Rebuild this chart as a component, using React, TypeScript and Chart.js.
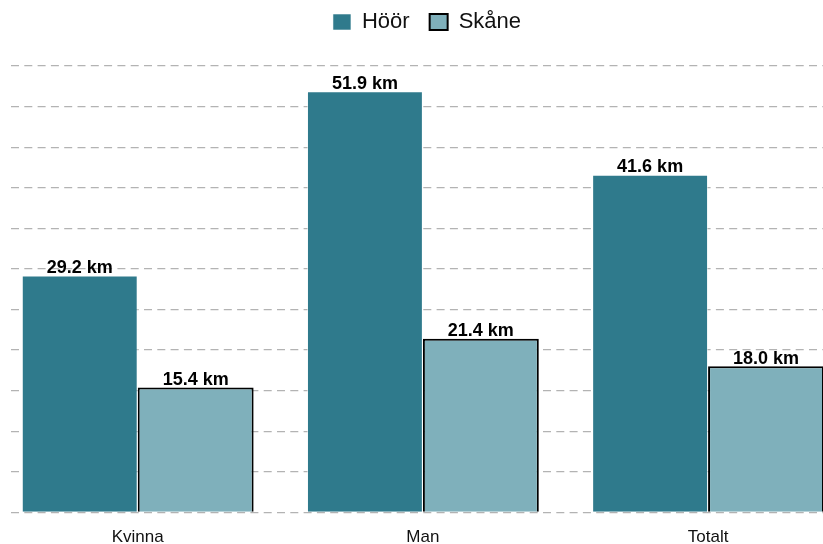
import React, { useEffect, useRef } from "react";
import { Chart, registerables } from "chart.js";

Chart.register(...registerables);

const categories = ["Kvinna", "Man", "Totalt"];
const seriesNames = ["Höör", "Skåne"];
const hoorValues = [29.2, 51.9, 41.6];
const skaneValues = [15.4, 21.4, 18.0];
const unit = "km";
const yMax = 55;
const yStep = 5;

const HOOR_COLOR = "rgb(47,122,140)";
const SKANE_COLOR = "rgb(127,176,187)";
const FONT = '"Liberation Sans", Arial, Helvetica, sans-serif';

const legendSpacer = {
  id: "legendSpacer",
  beforeLayout(chart: any) {
    const lg = chart.legend;
    if (lg && !lg.__patched) {
      const orig = lg.fit;
      lg.fit = function () {
        orig.call(this);
        this.height = 75;
      };
      lg.__patched = true;
    }
  },
};

const valueLabels = {
  id: "valueLabels",
  afterDatasetsDraw(chart: any) {
    const ctx = chart.ctx;
    ctx.save();
    ctx.font = "bold 18px " + FONT;
    ctx.fillStyle = "#000";
    ctx.textAlign = "center";
    ctx.textBaseline = "bottom";
    chart.data.datasets.forEach((ds: any, di: number) => {
      const meta = chart.getDatasetMeta(di);
      meta.data.forEach((bar: any, i: number) => {
        const v = ds.data[i].y;
        ctx.fillText(v.toFixed(1) + " " + unit, bar.x, bar.y + 1.5);
      });
    });
    ctx.restore();
  },
};

export default function App() {
  const ref = useRef<HTMLCanvasElement | null>(null);

  useEffect(() => {
    if (!ref.current) return;
    Chart.defaults.font.family = FONT;
    const chart = new Chart(ref.current, {
      type: "bar",
      data: {
        datasets: [
          {
            label: seriesNames[0],
            data: hoorValues.map((v, i) => ({ x: i, y: v })),
            backgroundColor: HOOR_COLOR,
            borderColor: "rgba(255,255,255,0.55)",
            borderWidth: 1,
          },
          {
            label: seriesNames[1],
            data: skaneValues.map((v, i) => ({ x: i, y: v })),
            backgroundColor: SKANE_COLOR,
            borderColor: "#000",
            borderWidth: 2,
          },
        ],
      },
      options: {
        animation: false,
        responsive: true,
        maintainAspectRatio: false,
        categoryPercentage: 0.813,
        barPercentage: 1,
        layout: { padding: { top: -9, left: 11, right: -20, bottom: 0 } },
        plugins: {
          legend: {
            position: "top",
            labels: {
              font: { size: 22, family: FONT },
              color: "#111",
              boxWidth: 18,
              boxHeight: 16,
              padding: 20,
            },
          },
          tooltip: { enabled: false },
        },
        scales: {
          x: {
            type: "linear",
            offset: false,
            min: -0.4443,
            max: 2.403,
            grid: { display: false, drawTicks: false, offset: false },
            border: { display: false },
            afterBuildTicks: (scale: any) => {
              scale.ticks = categories.map((_, i) => ({ value: i }));
            },
            afterFit: (scale: any) => {
              scale.height = 31.5;
            },
            ticks: {
              autoSkip: false,
              maxRotation: 0,
              padding: 15,
              color: "#111",
              font: { size: 17, family: FONT },
              callback: (v: any) => categories[v as number] ?? "",
            },
          },
          y: {
            min: 0,
            max: yMax,
            ticks: { display: false, stepSize: yStep },
            grid: { color: "#b3b3b3", lineWidth: 1.3, drawTicks: false },
            border: { display: false, dash: [8, 5.3] },
            afterFit: (scale: any) => {
              scale.width = 0;
            },
          },
        },
      },
      plugins: [legendSpacer, valueLabels],
    } as any);
    return () => chart.destroy();
  }, []);

  return (
    <div style={{ position: "fixed", left: 0, top: 0, width: 823, height: 544, background: "#fff" }}>
      <canvas ref={ref} />
    </div>
  );
}
